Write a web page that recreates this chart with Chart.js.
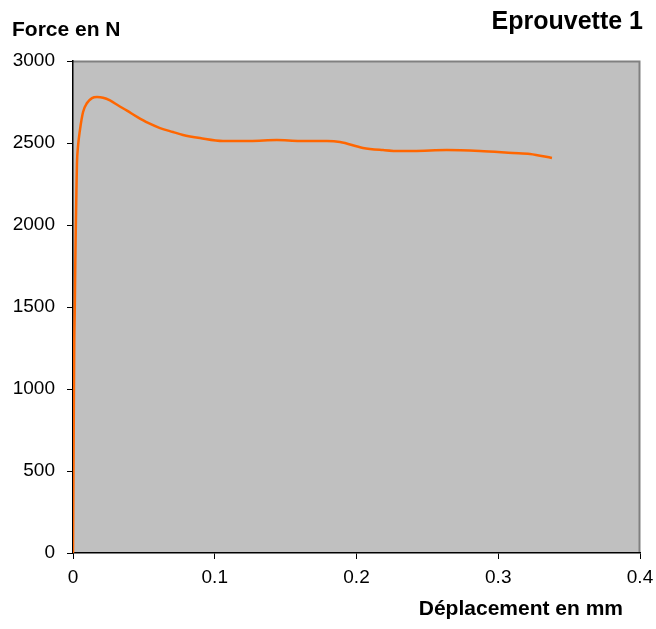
<!DOCTYPE html>
<html><head><meta charset="utf-8">
<script src="https://cdn.jsdelivr.net/npm/chart.js@4/dist/chart.umd.min.js"></script>
<style>html,body{margin:0;padding:0;background:#fff;}#wrap{width:656px;height:629px;position:relative;}</style>
</head><body><div id="wrap"><canvas id="c" width="656" height="629"></canvas></div>
<script>
const displacement = [0, 0.0003, 0.0006, 0.0009, 0.0012, 0.0016, 0.0020, 0.0024, 0.0028, 0.0035, 0.0049, 0.0071, 0.0099, 0.0134, 0.0169, 0.0212, 0.0261, 0.0317, 0.0381, 0.0452, 0.0530, 0.0614, 0.0705, 0.0776, 0.0896, 0.1058, 0.1249, 0.1439, 0.1601, 0.1792, 0.1884, 0.2046, 0.2187, 0.2307, 0.2399, 0.2638, 0.2871, 0.3104, 0.3224, 0.3379];
const force = [0, 450, 900, 1300, 1460, 1750, 2000, 2200, 2378, 2476, 2579, 2689, 2744, 2774, 2780, 2776, 2760, 2730, 2697, 2659, 2622, 2591, 2567, 2549, 2530, 2512, 2512, 2518, 2512, 2512, 2506, 2470, 2457, 2451, 2451, 2457, 2451, 2439, 2433, 2409];
const xTicks = [0, 0.1, 0.2, 0.3, 0.4];
const yTicks = [0, 500, 1000, 1500, 2000, 2500, 3000];
const chartTitle = 'Eprouvette 1';
const yTitle = 'Force en N';
const xTitle = 'Déplacement en mm';

const FONT = "'Liberation Sans', Arial, sans-serif";
const plotBg = {
  id: 'plotBg',
  beforeDraw(chart) {
    const {ctx, chartArea: a} = chart;
    ctx.save();
    ctx.fillStyle = '#C0C0C0';
    ctx.fillRect(a.left, a.top, a.right - a.left, a.bottom - a.top);
    ctx.strokeStyle = '#808080';
    ctx.lineWidth = 2;
    ctx.beginPath();
    ctx.moveTo(a.left, a.top + 0.5); ctx.lineTo(a.right - 0.5, a.top + 0.5); ctx.lineTo(a.right - 0.5, a.bottom);
    ctx.stroke();
    ctx.restore();
  },
  afterDraw(chart) {
    const ctx = chart.ctx;
    ctx.save();
    ctx.fillStyle = '#000';
    ctx.textBaseline = 'middle';
    ctx.font = "bold 21px " + FONT;
    ctx.textAlign = 'left';
    ctx.fillText(yTitle, 12, 30);
    ctx.textAlign = 'right';
    ctx.fillText(xTitle, 623, 609);
    ctx.font = "bold 25px " + FONT;
    ctx.fillText(chartTitle, 643, 22);
    ctx.restore();
  }
};

new Chart(document.getElementById('c'), {
  type: 'scatter',
  data: { datasets: [{
    data: displacement.map((x, i) => ({x, y: force[i]})),
    showLine: true, borderColor: '#FF6600', borderWidth: 2.5, pointRadius: 0,
    cubicInterpolationMode: 'monotone', fill: false
  }]},
  options: {
    responsive: false, animation: false,
    layout: { padding: { top: 61, right: 16, left: 0, bottom: 0 } },
    plugins: { legend: { display: false }, tooltip: { enabled: false } },
    scales: {
      x: {
        type: 'linear', min: 0, max: 0.4,
        afterBuildTicks: s => { s.ticks = xTicks.map(v => ({value: v})); },
        afterFit: s => { s.height = 76; s.paddingRight = 0; s.paddingLeft = 0; },
        grid: { drawOnChartArea: false, drawTicks: true, tickLength: 6, color: '#000' },
        border: { color: '#000', width: 1.5 },
        ticks: { color: '#000', font: { family: FONT, size: 19 }, padding: 7, maxRotation: 0,
          callback: v => String(v) }
      },
      y: {
        type: 'linear', min: 0, max: 3000,
        afterBuildTicks: s => { s.ticks = yTicks.map(v => ({value: v})); },
        afterFit: s => { s.width = 73; s.paddingTop = 0; s.paddingBottom = 0; },
        grid: { drawOnChartArea: false, drawTicks: true, tickLength: 6, color: '#000' },
        border: { color: '#000', width: 1.5 },
        ticks: { color: '#000', font: { family: FONT, size: 19 }, padding: 12,
          callback: v => String(v) }
      }
    }
  },
  plugins: [plotBg]
});
</script></body></html>
